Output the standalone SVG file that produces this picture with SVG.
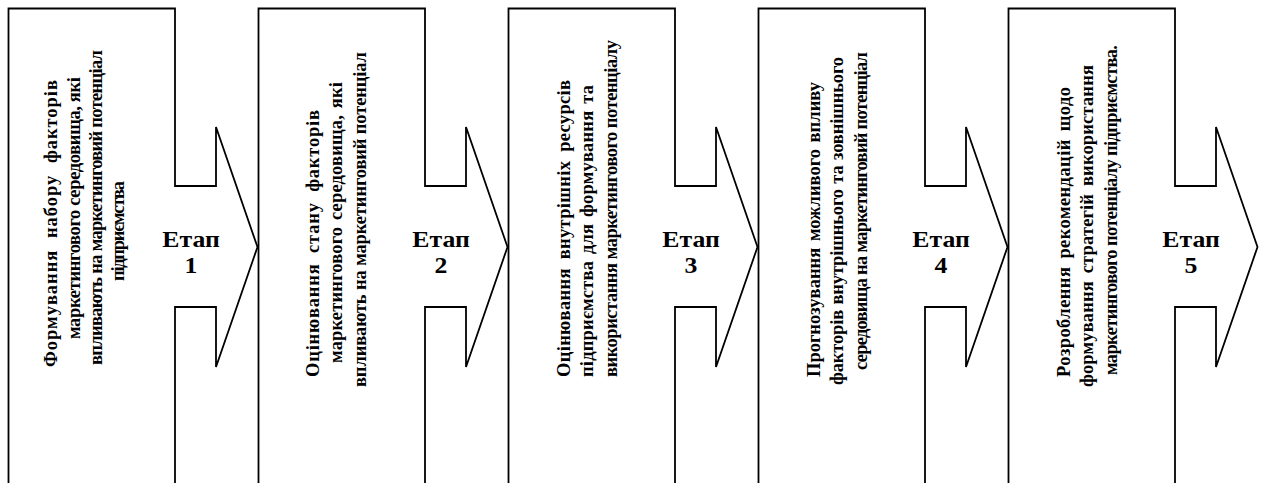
<svg xmlns="http://www.w3.org/2000/svg" width="1261" height="483" viewBox="0 0 1261 483">
<style>
.blk{fill:#fff;stroke:#000;stroke-width:1.8;stroke-linejoin:miter}
.vt{font-family:"Liberation Serif","Times New Roman",serif;font-weight:bold;font-size:18.5px;fill:#000}
.lb{font-family:"Liberation Serif","Times New Roman",serif;font-weight:bold;font-size:23px;fill:#000;text-anchor:middle}
</style>
<defs>
<path id="shape" d="M0,490 L0,0 L166.5,0 L166.5,177.5 L207.5,177.5 L207.5,118.5 L249,238.5 L207.5,358.5 L207.5,298.5 L166.5,298.5 L166.5,490"/>
</defs>
<g id="connectors"></g>
<g id="stage1">
<use href="#shape" class="blk" x="8.5" y="8.5"/>
<text class="vt" transform="translate(57,367) rotate(-90)" word-spacing="6" textLength="287" lengthAdjust="spacing">Формування набору факторів</text>
<text class="vt" transform="translate(80,339) rotate(-90)" textLength="262" lengthAdjust="spacing">маркетингового середовища, які</text>
<text class="vt" transform="translate(102,365) rotate(-90)" textLength="315" lengthAdjust="spacing">впливають на маркетинговий потенціал</text>
<text class="vt" transform="translate(124,281) rotate(-90)" textLength="100" lengthAdjust="spacing">підприємства</text>
<text class="lb" transform="translate(191,0) scale(1.12,1)" x="0" y="247">Етап</text>
<text class="lb" transform="translate(191,0) scale(1.12,1)" x="0" y="273">1</text>
</g>
<g id="stage2">
<use href="#shape" class="blk" x="258.5" y="8.5"/>
<text class="vt" transform="translate(319,377) rotate(-90)" word-spacing="5" textLength="267" lengthAdjust="spacing">Оцінювання стану факторів</text>
<text class="vt" transform="translate(342,363) rotate(-90)" word-spacing="2" textLength="281" lengthAdjust="spacing">маркетингового середовища, які</text>
<text class="vt" transform="translate(366,387) rotate(-90)" textLength="335" lengthAdjust="spacing">впливають на маркетинговий потенціал</text>
<text class="lb" transform="translate(441,0) scale(1.12,1)" x="0" y="247">Етап</text>
<text class="lb" transform="translate(441,0) scale(1.12,1)" x="0" y="273">2</text>
</g>
<g id="stage3">
<use href="#shape" class="blk" x="508.5" y="8.5"/>
<text class="vt" transform="translate(570,377) rotate(-90)" word-spacing="4" textLength="297" lengthAdjust="spacing">Оцінювання внутрішніх ресурсів</text>
<text class="vt" transform="translate(593,377) rotate(-90)" word-spacing="2" textLength="292" lengthAdjust="spacing">підприємства для формування та</text>
<text class="vt" transform="translate(617,377) rotate(-90)" textLength="337" lengthAdjust="spacing">використання маркетингового потенціалу</text>
<text class="lb" transform="translate(691,0) scale(1.12,1)" x="0" y="247">Етап</text>
<text class="lb" transform="translate(691,0) scale(1.12,1)" x="0" y="273">3</text>
</g>
<g id="stage4">
<use href="#shape" class="blk" x="758.5" y="8.5"/>
<text class="vt" transform="translate(820,377) rotate(-90)" word-spacing="2" textLength="295" lengthAdjust="spacing">Прогнозування можливого впливу</text>
<text class="vt" transform="translate(843,385) rotate(-90)" word-spacing="1" textLength="328" lengthAdjust="spacing">факторів внутрішнього та зовнішнього</text>
<text class="vt" transform="translate(867,370) rotate(-90)" textLength="318" lengthAdjust="spacing">середовища на маркетинговий потенціал</text>
<text class="lb" transform="translate(941,0) scale(1.12,1)" x="0" y="247">Етап</text>
<text class="lb" transform="translate(941,0) scale(1.12,1)" x="0" y="273">4</text>
</g>
<g id="stage5">
<use href="#shape" class="blk" x="1008.5" y="8.5"/>
<text class="vt" transform="translate(1070,377) rotate(-90)" word-spacing="3" textLength="290" lengthAdjust="spacing">Розроблення рекомендацій щодо</text>
<text class="vt" transform="translate(1093,387) rotate(-90)" word-spacing="3" textLength="322" lengthAdjust="spacing">формування стратегій використання</text>
<text class="vt" transform="translate(1117,375) rotate(-90)" textLength="330" lengthAdjust="spacing">маркетингового потенціалу підприємства.</text>
<text class="lb" transform="translate(1191,0) scale(1.12,1)" x="0" y="247">Етап</text>
<text class="lb" transform="translate(1191,0) scale(1.12,1)" x="0" y="273">5</text>
</g>
</svg>
